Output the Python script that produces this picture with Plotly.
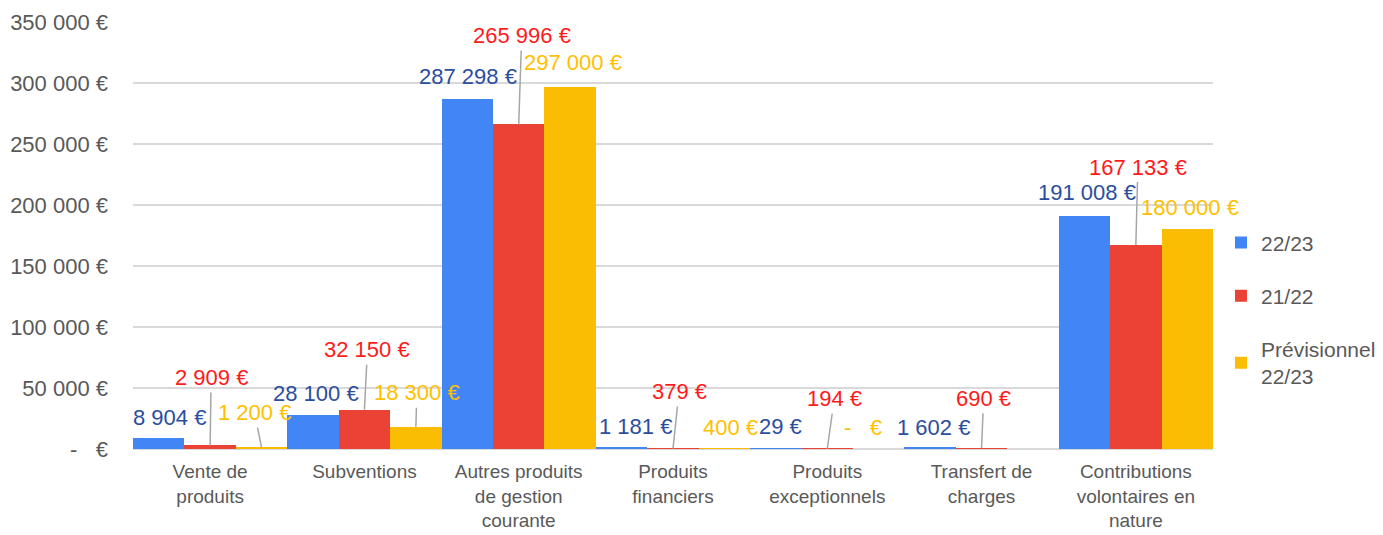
import plotly.graph_objects as go

categories = ["Vente de<br>produits", "Subventions", "Autres produits<br>de gestion<br>courante",
              "Produits<br>financiers", "Produits<br>exceptionnels", "Transfert de<br>charges",
              "Contributions<br>volontaires en<br>nature"]
series_names = ["22/23", "21/22", "Prévisionnel<br>22/23"]
v_2223 = [8904, 28100, 287298, 1181, 29, 1602, 191008]
v_2122 = [2909, 32150, 265996, 379, 194, 690, 167133]
v_prev = [1200, 18300, 297000, 400, 0, None, 180000]
y_ticks = [0, 50000, 100000, 150000, 200000, 250000, 300000, 350000]

bar_colors = ["#4285F4", "#EA4335", "#FBBC04"]
label_colors = ["#2B4E9E", "#FF1A1A", "#FFC000"]

# label offsets in pixels (dx, dy, leader line)
offsets = [
    [(11, -21, False), (1, -68, True), (-7, -35, True)],
    [(3, -21, False), (3, -60, True), (1, -34, True)],
    [(1, -22, False), (3, -89, True), (3, -24, False)],
    [(14, -21, False), (6, -57, True), (6, -21, False)],
    [(5, -22, False), (7, -50, True), (-16, -22, False)],
    [(3, -20, False), (2, -50, True), (0, 0, False)],
    [(3, -23, False), (2, -78, True), (3, -22, False)],
]

FONT = "Liberation Sans, Arial, sans-serif"
GRAY = "#595959"


def fmt(v):
    if v == 0:
        return "-   €"
    return f"{v:,}".replace(",", " ") + " €"


fig = go.Figure()
xs = list(range(len(categories)))
all_series = [v_2223, v_2122, v_prev]
for k, (name, vals) in enumerate(zip(series_names, all_series)):
    fig.add_trace(go.Bar(x=xs, y=vals, name=name, marker_color=bar_colors[k],
                         marker_line_width=0, legendgroup=str(k)))

annotations = []
for i in xs:
    for k, vals in enumerate(all_series):
        v = vals[i]
        if v is None:
            continue
        dx, dy, leader = offsets[i][k]
        annotations.append(dict(
            x=i + (k - 1) / 3, y=v, xref="x", yref="y",
            text=fmt(v), showarrow=True, ax=dx, ay=dy,
            arrowhead=0, arrowwidth=1.5, standoff=0,
            arrowcolor="#A6A6A6" if leader else "rgba(0,0,0,0)",
            font=dict(family=FONT, size=22, color=label_colors[k]),
            borderpad=2,
        ))

fig.update_layout(
    width=1375, height=527,
    margin=dict(l=125, r=170, t=14, b=86, autoexpand=False),
    paper_bgcolor="white", plot_bgcolor="white",
    barmode="group", bargap=0, bargroupgap=0,
    font=dict(family=FONT, size=21, color=GRAY),
    annotations=annotations,
    legend=dict(x=1.0074, xanchor="left", y=0.531, yanchor="top",
                font=dict(family=FONT, size=21, color=GRAY),
                tracegroupgap=23, itemwidth=30),
    showlegend=True,
)
fig.update_xaxes(range=[-0.5, 6.5], tickvals=xs, ticktext=categories, showgrid=False,
                 ticks="", ticklabelstandoff=9, tickfont=dict(size=19, color=GRAY),
                 showline=False, zeroline=False, automargin=False)
fig.update_yaxes(range=[0, 350000], tickvals=y_ticks, ticktext=[fmt(t) for t in y_ticks],
                 showgrid=True, gridcolor="#D9D9D9", gridwidth=1.5, zeroline=True,
                 zerolinecolor="#D9D9D9", zerolinewidth=1.5, automargin=False,
                 tickfont=dict(size=22, color=GRAY), ticks="", ticklabelstandoff=24)

fig.write_html("out.html")
